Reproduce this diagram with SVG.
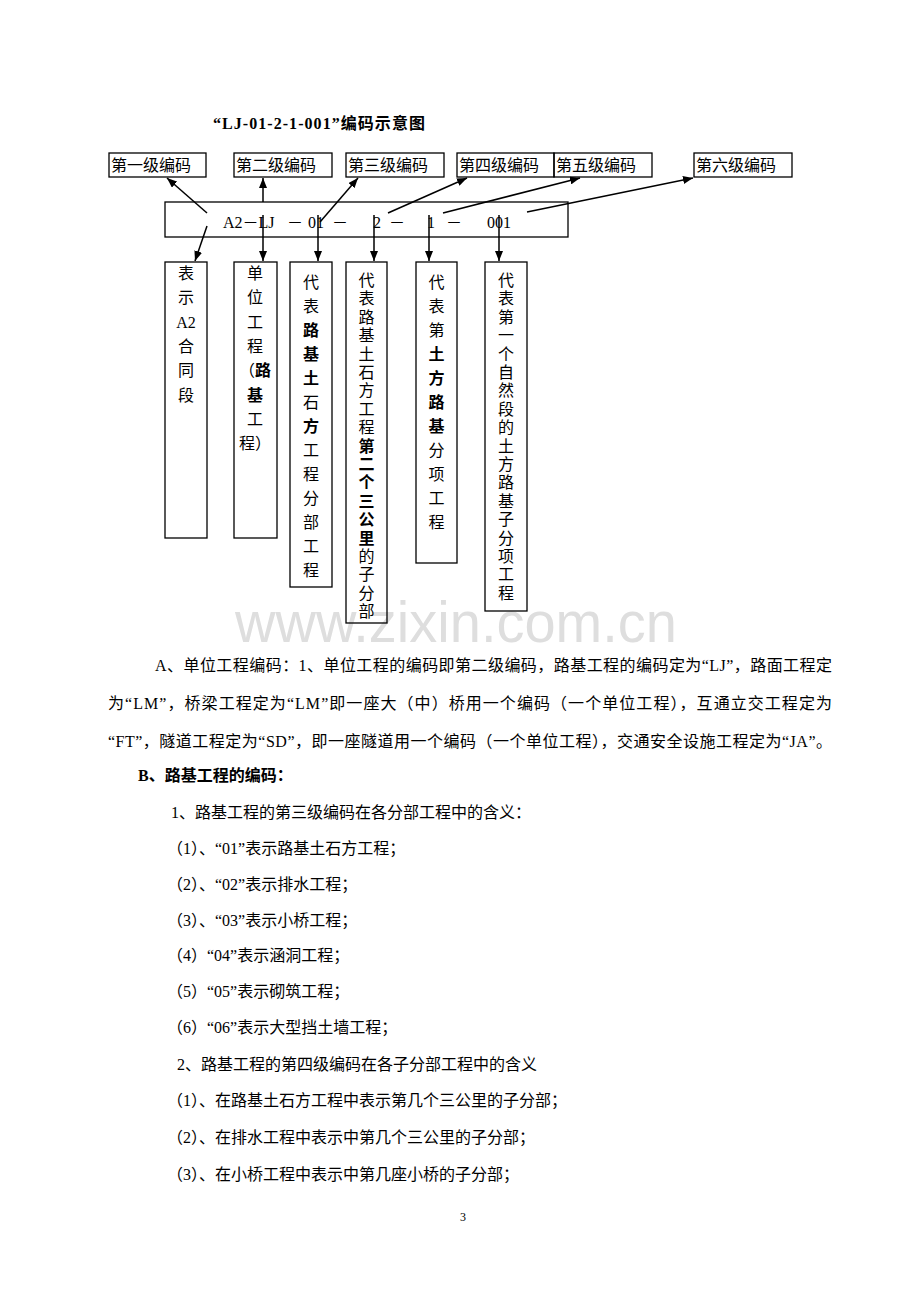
<svg xmlns="http://www.w3.org/2000/svg" width="920" height="1302" viewBox="0 0 920 1302">
<style>
.t{font-family:"Liberation Serif","Noto Sans CJK SC",serif;font-size:16px;fill:#000}
.b{font-weight:bold}
.box{fill:none;stroke:#000;stroke-width:1.3}
.c{stroke:#000;stroke-width:1.5;fill:none}
.vt{text-anchor:middle}
.wm{font-family:"Liberation Sans",Arial,sans-serif;font-size:57px;fill:#dedede}
</style>
<defs>
<marker id="ah" viewBox="0 0 10 8" refX="10" refY="4" markerWidth="10" markerHeight="8" orient="auto" markerUnits="userSpaceOnUse"><path d="M0,0 L10,4 L0,8 z" fill="#000"/></marker>
</defs>
<rect width="920" height="1302" fill="#fff"/>
<text class="wm" x="235" y="642" textLength="442" lengthAdjust="spacingAndGlyphs">www.zixin.com.cn</text>
<text class="t b" x="213" y="129" textLength="212">“LJ-01-2-1-001”编码示意图</text>

<g id="level1"><rect class="box" x="109" y="153" width="97" height="24"/><text class="t" x="111" y="171">第一级编码</text></g>
<g id="level2"><rect class="box" x="234" y="153" width="98" height="24"/><text class="t" x="236" y="171">第二级编码</text></g>
<g id="level3"><rect class="box" x="346" y="153" width="98" height="24"/><text class="t" x="348" y="171">第三级编码</text></g>
<g id="level4"><rect class="box" x="457" y="153" width="97" height="24"/><text class="t" x="459" y="171">第四级编码</text></g>
<g id="level5"><rect class="box" x="554" y="153" width="98" height="24"/><text class="t" x="556" y="171">第五级编码</text></g>
<g id="level6"><rect class="box" x="694" y="153" width="98" height="24"/><text class="t" x="696" y="171">第六级编码</text></g>

<g id="code">
<rect class="box" x="165" y="202" width="403" height="35"/>
<text class="t" y="228"><tspan x="223">A2－LJ</tspan><tspan x="287">－</tspan><tspan x="308">01</tspan><tspan x="332">－</tspan><tspan x="373">2</tspan><tspan x="389">－</tspan><tspan x="427">1</tspan><tspan x="446">－</tspan><tspan x="487">001</tspan></text>
</g>

<g id="boxA"><rect class="box" x="165" y="262" width="42" height="276"/>
<text class="t vt"><tspan x="186" y="279">表</tspan><tspan x="186" y="303">示</tspan><tspan x="186" y="328">A2</tspan><tspan x="186" y="352">合</tspan><tspan x="186" y="376">同</tspan><tspan x="186" y="401">段</tspan></text></g>

<g id="boxB"><rect class="box" x="234" y="262" width="43" height="276"/>
<text class="t vt"><tspan x="255" y="279">单</tspan><tspan x="255" y="303">位</tspan><tspan x="255" y="328">工</tspan><tspan x="255" y="352">程</tspan><tspan x="255" y="376">（<tspan class="b">路</tspan></tspan><tspan x="255" y="401" class="b">基</tspan><tspan x="255" y="425">工</tspan><tspan x="255" y="449">程）</tspan></text></g>

<g id="boxC"><rect class="box" x="290" y="262" width="42" height="325"/>
<text class="t vt"><tspan x="311" y="288">代</tspan><tspan x="311" y="312">表</tspan><tspan x="311" y="336" class="b">路</tspan><tspan x="311" y="360" class="b">基</tspan><tspan x="311" y="384" class="b">土</tspan><tspan x="311" y="408">石</tspan><tspan x="311" y="432" class="b">方</tspan><tspan x="311" y="456">工</tspan><tspan x="311" y="480">程</tspan><tspan x="311" y="504">分</tspan><tspan x="311" y="528">部</tspan><tspan x="311" y="552">工</tspan><tspan x="311" y="576">程</tspan></text></g>

<g id="boxD"><rect class="box" x="346" y="262" width="41" height="361"/>
<text class="t vt"><tspan x="366.5" y="286">代</tspan><tspan x="366.5" y="304.4">表</tspan><tspan x="366.5" y="322.8">路</tspan><tspan x="366.5" y="341.2">基</tspan><tspan x="366.5" y="359.6">土</tspan><tspan x="366.5" y="378">石</tspan><tspan x="366.5" y="396.4">方</tspan><tspan x="366.5" y="414.8">工</tspan><tspan x="366.5" y="433.2">程</tspan><tspan x="366.5" y="451.6" class="b">第</tspan><tspan x="366.5" y="470" class="b">二</tspan><tspan x="366.5" y="488.4" class="b">个</tspan><tspan x="366.5" y="506.8" class="b">三</tspan><tspan x="366.5" y="525.2" class="b">公</tspan><tspan x="366.5" y="543.6" class="b">里</tspan><tspan x="366.5" y="562">的</tspan><tspan x="366.5" y="580.4">子</tspan><tspan x="366.5" y="598.8">分</tspan><tspan x="366.5" y="617.2">部</tspan></text></g>

<g id="boxE"><rect class="box" x="416" y="262" width="41" height="301"/>
<text class="t vt"><tspan x="436.5" y="288">代</tspan><tspan x="436.5" y="312">表</tspan><tspan x="436.5" y="336">第</tspan><tspan x="436.5" y="360" class="b">土</tspan><tspan x="436.5" y="384" class="b">方</tspan><tspan x="436.5" y="408" class="b">路</tspan><tspan x="436.5" y="432" class="b">基</tspan><tspan x="436.5" y="456">分</tspan><tspan x="436.5" y="480">项</tspan><tspan x="436.5" y="504">工</tspan><tspan x="436.5" y="528">程</tspan></text></g>

<g id="boxF"><rect class="box" x="485" y="262" width="42" height="349"/>
<text class="t vt"><tspan x="506" y="286">代</tspan><tspan x="506" y="304.4">表</tspan><tspan x="506" y="322.8">第</tspan><tspan x="506" y="341.2">一</tspan><tspan x="506" y="359.6">个</tspan><tspan x="506" y="378">自</tspan><tspan x="506" y="396.4">然</tspan><tspan x="506" y="414.8">段</tspan><tspan x="506" y="433.2">的</tspan><tspan x="506" y="451.6">土</tspan><tspan x="506" y="470">方</tspan><tspan x="506" y="488.4">路</tspan><tspan x="506" y="506.8">基</tspan><tspan x="506" y="525.2">子</tspan><tspan x="506" y="543.6">分</tspan><tspan x="506" y="562">项</tspan><tspan x="506" y="580.4">工</tspan><tspan x="506" y="598.8">程</tspan></text></g>

<g id="connectors">
<path class="c" marker-end="url(#ah)" d="M207,213 L167,178"/>
<path class="c" marker-end="url(#ah)" d="M263,202 L263,178"/>
<path class="c" marker-end="url(#ah)" d="M320,222 L358,178"/>
<path class="c" marker-end="url(#ah)" d="M388,213 L467,178"/>
<path class="c" marker-end="url(#ah)" d="M443,213 L580,178"/>
<path class="c" marker-end="url(#ah)" d="M527,212 L693,178"/>
<path class="c" marker-end="url(#ah)" d="M207,226 L195,261"/>
<path class="c" marker-end="url(#ah)" d="M263,215 L263,261"/>
<path class="c" marker-end="url(#ah)" d="M318,215 L318,261"/>
<path class="c" marker-end="url(#ah)" d="M374,215 L374,261"/>
<path class="c" marker-end="url(#ah)" d="M429,215 L429,261"/>
<path class="c" marker-end="url(#ah)" d="M499,215 L499,261"/>
</g>

<g id="body">
<text class="t" x="155" y="671" textLength="677">A、单位工程编码：1、单位工程的编码即第二级编码，路基工程的编码定为“LJ”，路面工程定</text>
<text class="t" x="108" y="709" textLength="724">为“LM”，桥梁工程定为“LM”即一座大（中）桥用一个编码（一个单位工程），互通立交工程定为</text>
<text class="t" x="108" y="747" textLength="724">“FT”，隧道工程定为“SD”，即一座隧道用一个编码（一个单位工程），交通安全设施工程定为“JA”。</text>
<text class="t b" x="138" y="781">B、路基工程的编码：</text>
<text class="t" x="171" y="818">1、路基工程的第三级编码在各分部工程中的含义：</text>
<text class="t" x="167" y="854">（1）、“01”表示路基土石方工程；</text>
<text class="t" x="167" y="890">（2）、“02”表示排水工程；</text>
<text class="t" x="167" y="926">（3）、“03”表示小桥工程；</text>
<text class="t" x="167" y="961">（4）“04”表示涵洞工程；</text>
<text class="t" x="167" y="997">（5）“05”表示砌筑工程；</text>
<text class="t" x="167" y="1033">（6）“06”表示大型挡土墙工程；</text>
<text class="t" x="177" y="1070">2、路基工程的第四级编码在各子分部工程中的含义</text>
<text class="t" x="167" y="1106">（1）、在路基土石方工程中表示第几个三公里的子分部；</text>
<text class="t" x="167" y="1143">（2）、在排水工程中表示中第几个三公里的子分部；</text>
<text class="t" x="167" y="1180">（3）、在小桥工程中表示中第几座小桥的子分部；</text>
<text class="t" x="460" y="1221" style="font-size:12px">3</text>
</g>
</svg>
